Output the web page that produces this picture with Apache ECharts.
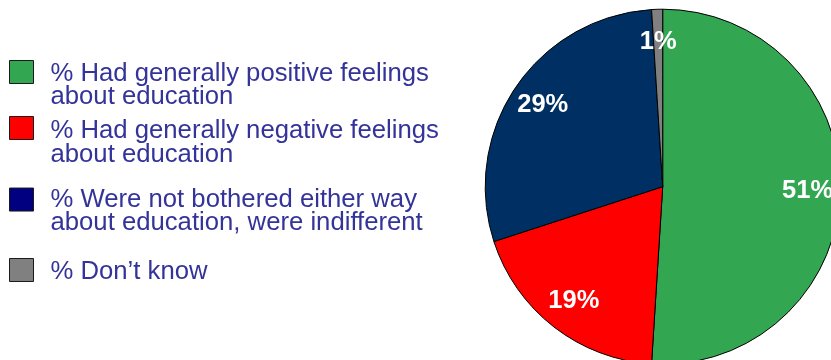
<!DOCTYPE html>
<html>
<head>
<meta charset="utf-8">
<script src="https://cdn.jsdelivr.net/npm/echarts@6/dist/echarts.min.js"></script>
<style>
  html, body { margin: 0; padding: 0; background: #ffffff; }
  #chart { width: 831px; height: 360px; }
</style>
</head>
<body>
<div id="chart"></div>
<script>
// Attitudes towards education, share of respondents
const categories = [
  '% Had generally positive feelings\nabout education',
  '% Had generally negative feelings\nabout education',
  '% Were not bothered either way\nabout education, were indifferent',
  '% Don\u2019t know'
];
const values = [51, 19, 29, 1];
const sliceColors = ['#33A652', '#FF0000', '#003063', '#808080'];
const legendColors = ['#33A652', '#FF0000', '#000080', '#808080'];

const FONT = '"Liberation Sans", Arial, sans-serif';
const CENTER = [662.7, 186.7];
const R = 177.5;

const pieData = categories.map((name, i) => ({
  name: name,
  value: values[i],
  itemStyle: { color: sliceColors[i] }
}));

// Each legend entry is its own block: the swatch sits at the top of a taller
// icon box, so the (possibly two-line) text hangs a little below the swatch.
const SW = 24, SH = 23;
const legendTops = [60, 116, 186.5, 258];
const textDrop = [13.4, 15, 11.6, 2.2];
const swatchIcon = drop => {
  const h = SH + 2 * drop;
  return 'path://M0,0L' + SW + ',0L' + SW + ',' + SH + 'L0,' + SH + 'Z M0,' + h + 'L0,' + h;
};
const legends = categories.map((name, i) => ({
  show: true,
  orient: 'vertical',
  left: 9,
  top: legendTops[i],
  padding: 0,
  icon: swatchIcon(textDrop[i]),
  itemWidth: SW,
  itemHeight: SH + 2 * textDrop[i],
  selectedMode: false,
  data: [{
    name: name,
    itemStyle: { color: legendColors[i], borderColor: '#1a1a1a', borderWidth: 1 }
  }],
  textStyle: {
    fontFamily: FONT,
    fontSize: 25.7,
    lineHeight: 23.3,
    color: '#333399',
    padding: [0, 0, 0, 12]
  }
}));

const chart = echarts.init(document.getElementById('chart'), null, { renderer: 'canvas' });
chart.setOption({
  animation: false,
  backgroundColor: '#ffffff',
  legend: legends,
  series: [
    {
      type: 'pie',
      center: CENTER,
      radius: [0, R],
      startAngle: 90,
      clockwise: true,
      silent: true,
      label: { show: false },
      labelLine: { show: false },
      itemStyle: { borderColor: '#000000', borderWidth: 1 },
      emphasis: { disabled: true },
      data: pieData
    },
    {
      // transparent ring that carries the percentage labels at ~0.8 of the radius
      type: 'pie',
      center: CENTER,
      radius: [R * 0.6, R],
      startAngle: 90,
      clockwise: true,
      silent: true,
      itemStyle: { color: 'rgba(0,0,0,0)', borderWidth: 0 },
      emphasis: { disabled: true },
      labelLine: { show: false },
      label: {
        show: true,
        position: 'inside',
        formatter: p => p.value + '%',
        color: '#ffffff',
        fontFamily: FONT,
        fontWeight: 'bold',
        fontSize: 25.5
      },
      data: categories.map((name, i) => ({ name: name, value: values[i] }))
    }
  ]
});
</script>
</body>
</html>
